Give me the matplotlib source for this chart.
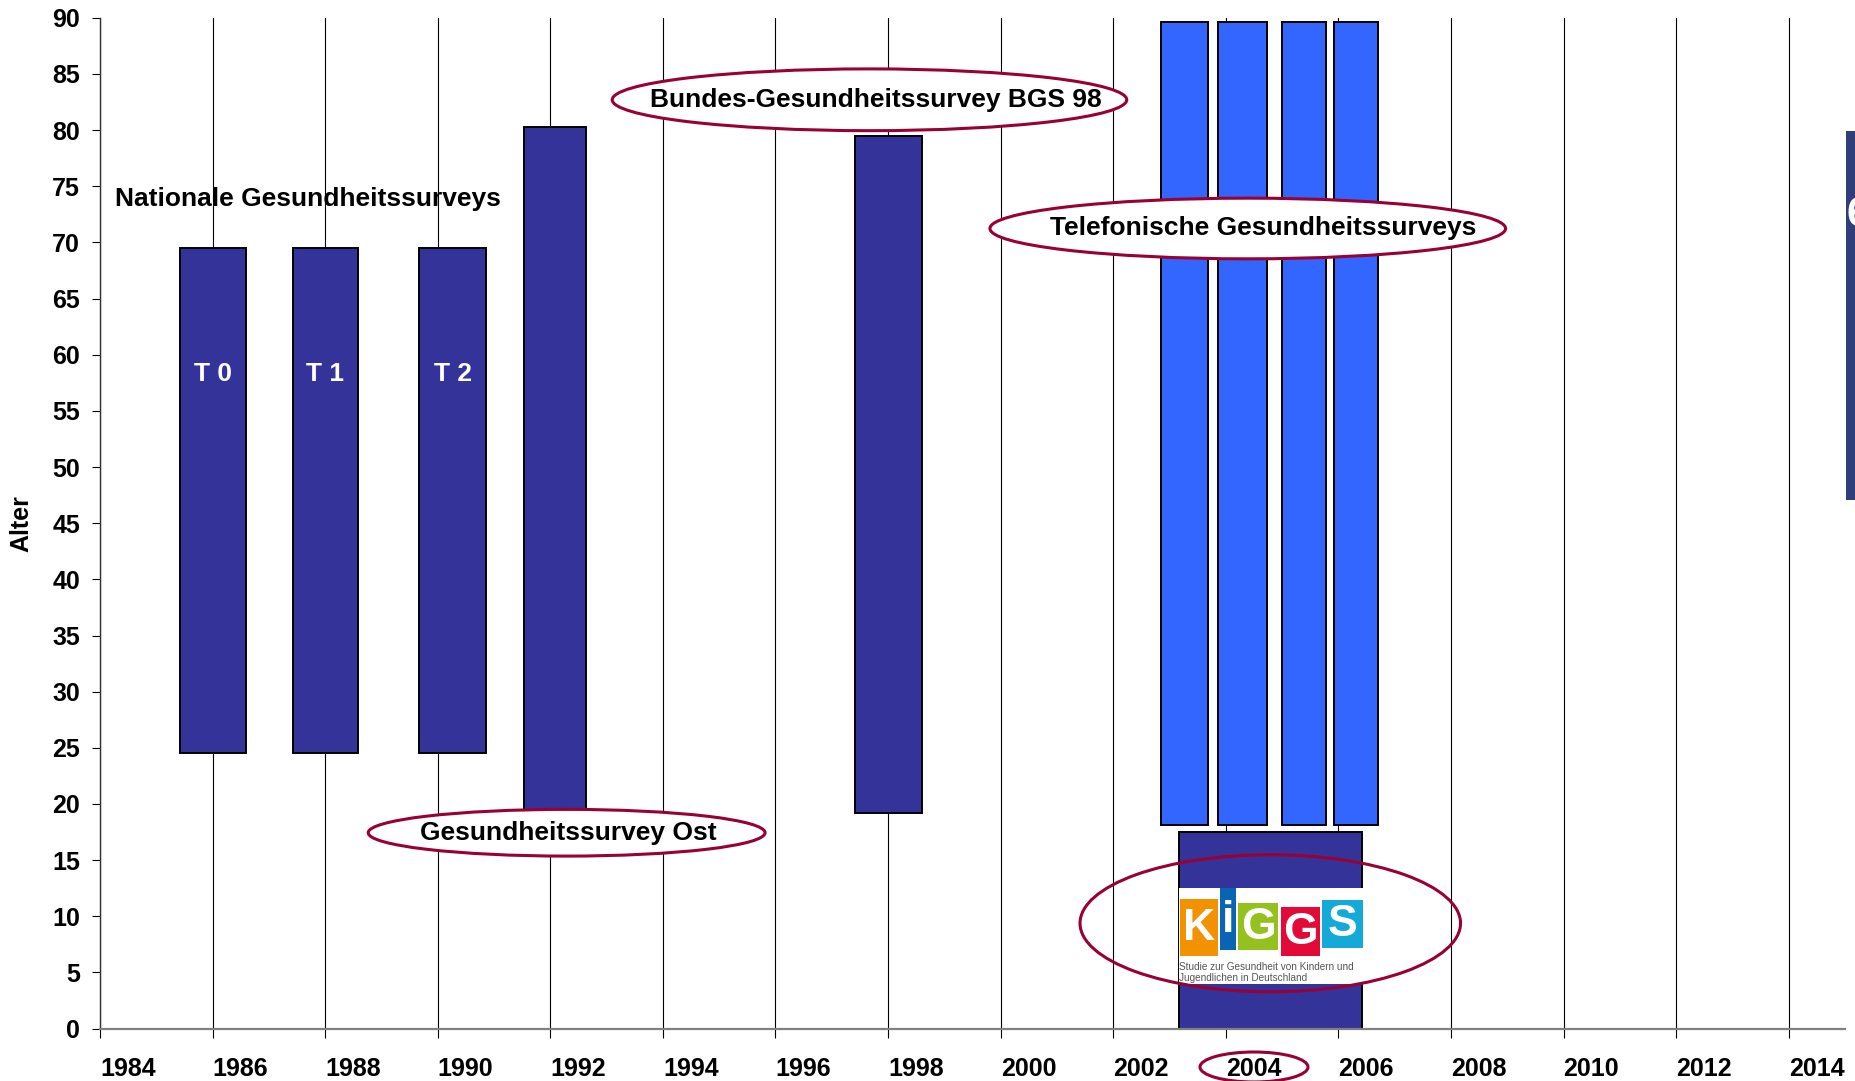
import matplotlib
matplotlib.use("Agg")
import matplotlib.pyplot as plt
from matplotlib.patches import Ellipse, Rectangle

plt.rcParams['font.family'] = ['Liberation Sans', 'DejaVu Sans']
plt.rcParams['font.weight'] = 'bold'

# surveys: year position (bar centre), bar width in years, age range
surveys = ["T 0", "T 1", "T 2", "Ost", "BGS 98", "Tel 1", "Tel 2", "Tel 3", "Tel 4", "KiGGS"]
year_pos = [1986.0, 1988.0, 1990.27, 1992.09, 1998.01, 2003.27, 2004.30, 2005.39, 2006.32, 2004.80]
bar_width = [1.17, 1.16, 1.19, 1.10, 1.20, 0.83, 0.87, 0.79, 0.78, 3.25]
age_min = [24.5, 24.5, 24.5, 18.0, 19.2, 18.1, 18.1, 18.1, 18.1, 0.0]
age_max = [69.5, 69.5, 69.5, 80.3, 79.5, 89.6, 89.6, 89.6, 89.6, 17.5]
bar_colors = ["#333399"] * 5 + ["#3366FF"] * 4 + ["#333399"]

x_ticks = list(range(1984, 2015, 2))
y_ticks = list(range(0, 91, 5))

# labels inside the T-bars
t_labels = ["T 0", "T 1", "T 2"]
t_label_age = 58.3

# ellipse callouts: text, centre year, centre age, width (years), height (age)
callouts = [
    ("Bundes-Gesundheitssurvey BGS 98", 1997.67, 82.7, 9.14, 5.5),
    ("Telefonische Gesundheitssurveys", 2004.39, 71.24, 9.16, 5.4),
    ("Gesundheitssurvey Ost", 1992.29, 17.44, 7.05, 4.16),
]
callout_text_pos = [(1997.78, 82.7), (2004.67, 71.24), (1992.32, 17.44)]
ring_color = "#990033"

fig = plt.figure(figsize=(18.56, 10.81), dpi=100)
ax = fig.add_axes([100 / 1856, 1 - 1028.6 / 1081, 1745 / 1856, (1028.6 - 17.8) / 1081])

heights = [hi - lo for hi, lo in zip(age_max, age_min)]
ax.bar(year_pos, heights, width=bar_width, bottom=age_min, color=bar_colors,
       edgecolor="black", linewidth=1.4, zorder=2)

for i, lab in enumerate(t_labels):
    ax.text(year_pos[i], t_label_age, lab, color="white", fontsize=19,
            fontweight="bold", ha="center", va="center", zorder=3)

ax.set_xlim(1984, 2015)
ax.set_ylim(0, 90)
ax.set_xticks(x_ticks)
ax.set_xticklabels([str(y) for y in x_ticks], ha="left")
ax.set_yticks(y_ticks)
ax.tick_params(axis="x", length=6.5, width=0.8, pad=14, labelsize=18)
ax.tick_params(axis="y", length=5.8, width=0.8, pad=8.6, labelsize=18)
for lbl in ax.get_xticklabels() + ax.get_yticklabels():
    lbl.set_fontweight("bold")

ax.grid(axis="x", color="black", linewidth=0.8, zorder=1)
ax.set_axisbelow(True)
ax.spines["top"].set_visible(False)
ax.spines["right"].set_visible(False)
ax.spines["bottom"].set_color("#808080")
ax.spines["bottom"].set_linewidth(1.6)
ax.spines["left"].set_color("#303030")
ax.spines["left"].set_linewidth(1.0)

ax.set_ylabel("Alter", fontsize=18, fontweight="bold")
ax.yaxis.set_label_coords(-0.0384, 0.5)

ax.text(1984.26, 73.84, "Nationale Gesundheitssurveys", fontsize=19,
        fontweight="bold", ha="left", va="center", zorder=3)

for (txt, cx, cy, w, h), (tx, ty) in zip(callouts, callout_text_pos):
    ax.add_patch(Ellipse((cx, cy), w, h, facecolor="white", edgecolor=ring_color,
                         linewidth=2.2, zorder=4))
    ax.text(tx, ty, txt, fontsize=19, fontweight="bold", ha="center",
            va="center", zorder=5)

# KiGGS logo (white box with coloured letter blocks)
logo = fig.add_axes([1179 / 1856, 1 - 984 / 1081, 183.7 / 1856, 96.3 / 1081])
logo.set_xlim(0, 183.7)
logo.set_ylim(96.3, 0)
logo.axis("off")
logo.add_patch(Rectangle((0, 0), 183.7, 96.3, facecolor="white", edgecolor="none"))
blocks = [("K", 1, 11.3, 37.7, 57, "#F39200"),
          ("i", 41, 0.3, 16, 62, "#0A64B4"),
          ("G", 59, 15.3, 40, 47, "#95C11F"),
          ("G", 101.7, 19.3, 39.3, 49, "#E30A37"),
          ("S", 143, 12.3, 40.7, 47.7, "#14A9D6")]
for letter, bx, by, bw, bh, col in blocks:
    logo.add_patch(Rectangle((bx, by), bw, bh, facecolor=col, edgecolor="none"))
    logo.text(bx + bw / 2, by + bh / 2 + 1, letter, color="white", fontsize=32,
              fontweight="bold", ha="center", va="center")
logo.text(0.5, 79, "Studie zur Gesundheit von Kindern und", fontsize=7.2,
          fontweight="normal", color="#555555", ha="left", va="center")
logo.text(0.5, 90, "Jugendlichen in Deutschland", fontsize=7.2,
          fontweight="normal", color="#555555", ha="left", va="center")

# ring around the KiGGS logo, above the logo axes
fig.add_artist(Ellipse((2004.79, 9.38), 6.76, 12.2, transform=ax.transData,
                       facecolor="none", edgecolor=ring_color, linewidth=2.2,
                       zorder=5))

# ring around the 2004 label
fig.add_artist(Ellipse((1254 / 1856, 1 - 1067 / 1081), 108 / 1856, 30 / 1081,
                       transform=fig.transFigure, facecolor="none",
                       edgecolor=ring_color, linewidth=2.2, zorder=5))

# cut-off slide element on the right edge
fig.add_artist(Rectangle((1846 / 1856, 1 - 500 / 1081), 10 / 1856, 369 / 1081,
                         transform=fig.transFigure, facecolor="#2F3D7A",
                         edgecolor="none", zorder=5))
fig.text(1847 / 1856, 1 - 215 / 1081, "6", color="white", fontsize=30,
         fontweight="bold", ha="left", va="center", zorder=6)

fig.savefig("out.png", dpi=100)
